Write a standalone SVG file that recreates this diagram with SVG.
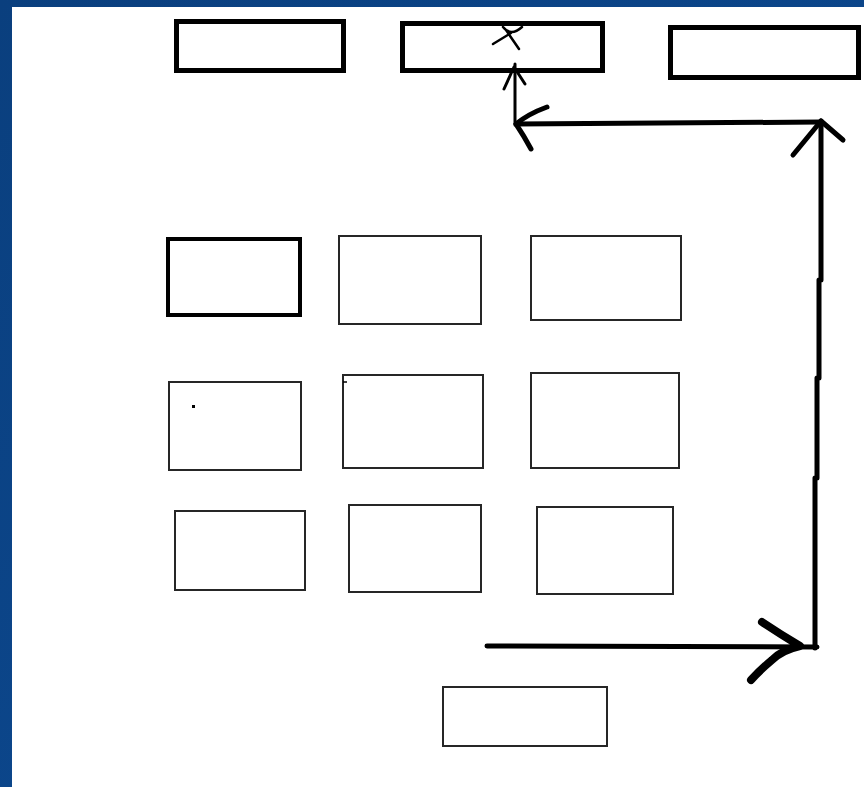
<svg xmlns="http://www.w3.org/2000/svg" width="864" height="787" viewBox="0 0 864 787">
  <defs>
    <style>
      .bg { fill: #0c4890; }
      .paper { fill: #ffffff; }
      .thick { fill: #ffffff; stroke: #000; stroke-width: 5; }
      .med { fill: #ffffff; stroke: #000; stroke-width: 4; }
      .thin { fill: #ffffff; stroke: #262626; stroke-width: 2; }
      .conn { fill: none; stroke: #000; stroke-linecap: round; stroke-linejoin: round; }
    </style>
    <linearGradient id="blue" x1="0" y1="0" x2="1" y2="1">
      <stop offset="0" stop-color="#0a3f7e"/>
      <stop offset="1" stop-color="#0d4c96"/>
    </linearGradient>
  </defs>
  <rect x="0" y="0" width="864" height="787" fill="url(#blue)"/>
  <rect class="paper" x="12" y="7" width="852" height="780"/>

  <g id="top1"><rect class="thick" x="176.5" y="21.5" width="167" height="49"/></g>
  <g id="top2">
    <rect class="thick" x="402.5" y="23.5" width="200" height="47"/>
    <path d="M503,27 Q511,37 522,27 M493,44 L511,33 M506,30 L519,49" fill="none" stroke="#000" stroke-width="2.5" stroke-linecap="round"/>
  </g>
  <g id="top3"><rect class="thick" x="670.5" y="27.5" width="188" height="50"/></g>

  <g id="a"><rect class="med" x="168" y="239" width="132" height="76"/></g>
  <g id="b"><rect class="thin" x="339" y="236" width="142" height="88"/></g>
  <g id="c"><rect class="thin" x="531" y="236" width="150" height="84"/></g>

  <g id="d">
    <rect class="thin" x="169" y="382" width="132" height="88"/>
    <rect x="192" y="405" width="3" height="3" fill="#000"/>
  </g>
  <g id="e">
    <rect class="thin" x="343" y="375" width="140" height="93"/>
    <line x1="343" y1="382" x2="347" y2="382" stroke="#000" stroke-width="1.5"/>
  </g>
  <g id="f"><rect class="thin" x="531" y="373" width="148" height="95"/></g>

  <g id="g"><rect class="thin" x="175" y="511" width="130" height="79"/></g>
  <g id="h"><rect class="thin" x="349" y="505" width="132" height="87"/></g>
  <g id="i"><rect class="thin" x="537" y="507" width="136" height="87"/></g>

  <g id="j"><rect class="thin" x="443" y="687" width="164" height="59"/></g>

  <g id="connectors">
    <!-- up arrow into top2 -->
    <path class="conn" stroke-width="3" d="M515,125 L515,64"/>
    <path class="conn" stroke-width="3" d="M504,89 L514,67 L525,84"/>
    <!-- horizontal top line -->
    <path class="conn" stroke-width="5" d="M516,124 L821,122"/>
    <path class="conn" stroke-width="5" d="M547,107 Q528,114 516,124 Q524,136 531,149"/>
    <!-- right vertical -->
    <path class="conn" stroke-width="5" stroke-linecap="butt" stroke-linejoin="miter" d="M821,121 L821,280 M819,280 L819,378 M817,378 L817,478 M815,478 L815,648"/>
    <path class="conn" stroke-width="5" d="M793,155 L821,121 L843,140"/>
    <!-- bottom horizontal -->
    <path class="conn" stroke-width="5" stroke-linecap="butt" d="M487,646 L817,647"/>
    <path class="conn" stroke-width="8" d="M762,622 Q780,634 800,646 Q782,650 772,660 Q760,670 751,680"/>
  </g>
</svg>
